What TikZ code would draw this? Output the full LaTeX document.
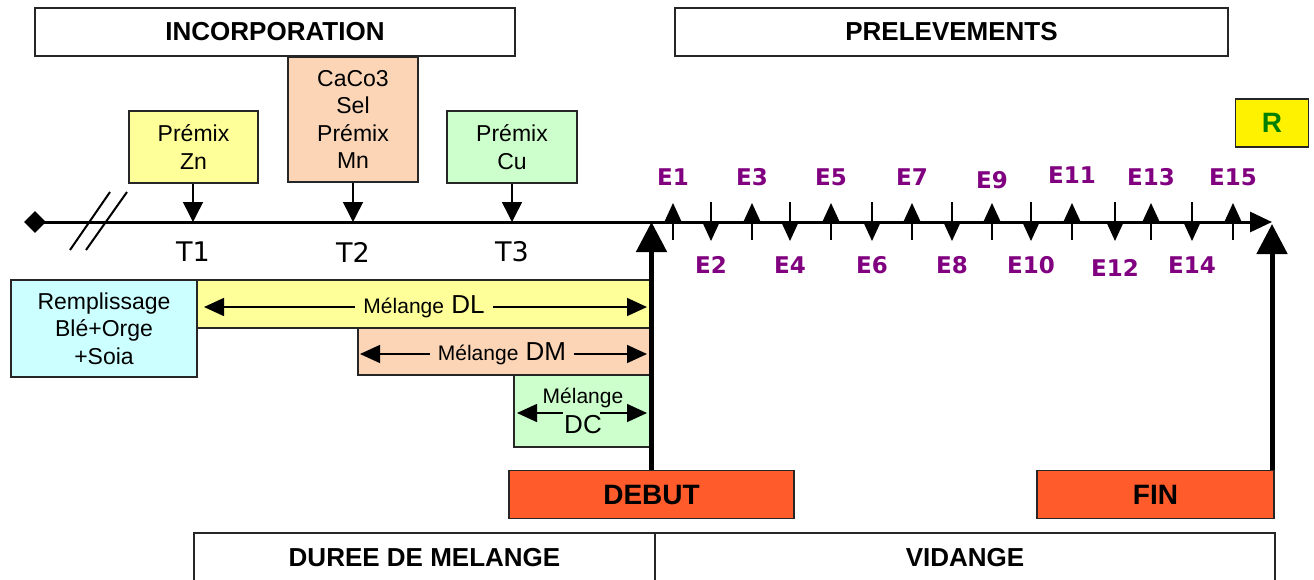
\documentclass[tikz,border=0pt]{standalone}
\usepackage{fontspec}
\setmainfont{Liberation Sans}
\newfontfamily\dejavu{DejaVu Sans}
\usetikzlibrary{arrows.meta,shapes.geometric}
\definecolor{jaune}{HTML}{FFFF99}
\definecolor{peche}{HTML}{FBD5B5}
\definecolor{vertclair}{HTML}{CCFFCC}
\definecolor{cyanclair}{HTML}{CCFFFF}
\definecolor{rouge}{HTML}{FF5B2B}
\definecolor{prune}{HTML}{800080}
\definecolor{vertr}{HTML}{008000}
\begin{document}
\begin{tikzpicture}[x=1pt, y=-1pt,
    box/.style={draw=black!85, line width=1.5pt, rectangle, inner sep=0pt, align=center,
        font=\fontsize{23}{27.5}\selectfont},
    titre/.style={box, fill=white, font=\bfseries\fontsize{26}{30}\selectfont},
    fin/.style={box, fill=rouge, minimum height=48pt, font=\bfseries\fontsize{28}{32}\selectfont},
    mtext/.style={inner xsep=8pt, inner ysep=0pt, font=\fontsize{26}{30}\selectfont},
    elabel/.style={text=prune, font=\dejavu\bfseries\fontsize{23}{27}\selectfont},
    tlabel/.style={font=\dejavu\fontsize{27}{32}\selectfont},
    pointe/.style={-{Triangle[length=20pt,width=20pt]}, line width=1.5pt},
    grosse/.style={-{Triangle[length=30pt,width=30pt]}, line width=5pt},
    petite/.style={-{Triangle[length=20pt,width=18pt]}, line width=1.5pt},
    fleche/.style={-{Triangle[length=20pt,width=18pt]}, line width=1.5pt},
    axe/.style={-{Triangle[length=22pt,width=20pt]}, line width=3pt}]
  \useasboundingbox (0,0) rectangle (1314,579);

  % titres
  \node[titre, minimum width=480pt, minimum height=48pt] (incorp) at (275,32) {INCORPORATION};
  \node[titre, minimum width=553pt, minimum height=48pt] (prelev) at (951.5,32) {PRELEVEMENTS};
  \node[box, fill=yellow, minimum width=73pt, minimum height=48pt, text=vertr,
        font=\bfseries\fontsize{28}{32}\selectfont] (r) at (1272,123) {R};

  % premix
  \node[box, fill=jaune, minimum width=129pt, minimum height=72pt] (zn) at (193.5,147) {Prémix\\Zn};
  \node[box, fill=peche, minimum width=130pt, minimum height=125pt] (caco) at (353,119.5) {CaCo3\\Sel\\Prémix\\Mn};
  \node[box, fill=vertclair, minimum width=130pt, minimum height=72pt] (cu) at (512,147) {Prémix\\Cu};

  % axe
  \node[diamond, fill=black, minimum size=22pt, inner sep=0pt] (origine) at (35,222) {};
  \coordinate (bout) at (1272,222);
  \draw[axe] (origine.center) -- (bout);
  \draw[line width=2pt] (70,250) -- (110,192);
  \draw[line width=2pt] (86,250) -- (127,192);

  \coordinate (p1) at (193,222);
  \coordinate (p2) at (353,222);
  \coordinate (p3) at (512,222);
  \draw[pointe] (zn.south -| p1) -- (p1);
  \draw[pointe] (caco.south -| p2) -- (p2);
  \draw[pointe] (cu.south -| p3) -- (p3);
  \node[tlabel] (t1) at (193,252) {T1};
  \node[tlabel] (t2) at (353,252) {T2};
  \node[tlabel] (t3) at (512,252) {T3};

  % prelevements
  \foreach \i/\x/\y in {1/673/177, 3/752/177, 5/831/177, 7/912/177, 9/992/180, 11/1072/175, 13/1151/177, 15/1233/177} {
    \coordinate (s\i) at (\x,240);
    \coordinate (h\i) at (\x,203);
    \draw[petite] (s\i) -- (h\i);
    \node[elabel] (e\i) at (\x,\y) {E\i};
  }
  \foreach \i/\x/\y in {2/711/265, 4/790/265, 6/872/265, 8/952/265, 10/1031/265, 12/1115/268, 14/1192/265} {
    \coordinate (s\i) at (\x,202);
    \coordinate (h\i) at (\x,241);
    \draw[petite] (s\i) -- (h\i);
    \node[elabel] (e\i) at (\x,\y) {E\i};
  }

  % melanges
  \node[box, fill=cyanclair, minimum width=186pt, minimum height=97pt] (rempl) at (104,328.5) {Remplissage\\Blé+Orge\\+Soia};
  \node[box, fill=jaune, minimum width=455pt, minimum height=48pt] (dl) at (424.5,304) {};
  \node[box, fill=peche, minimum width=294pt, minimum height=47pt] (dm) at (505,351.5) {};
  \node[box, fill=vertclair, minimum width=138pt, minimum height=72pt] (dc) at (583,411) {};

  \node[mtext] (dlt) at (424,307) {{\fontsize{21}{24}\selectfont Mélange} DL};
  \coordinate (dlg) at (204,307);
  \coordinate (dld) at (647,307);
  \draw[fleche] (dlt.west) -- (dlg);
  \draw[fleche] (dlt.east) -- (dld);

  \node[mtext] (dmt) at (502,354) {{\fontsize{21}{24}\selectfont Mélange} DM};
  \coordinate (dmg) at (360,354);
  \coordinate (dmd) at (647,354);
  \draw[fleche] (dmt.west) -- (dmg);
  \draw[fleche] (dmt.east) -- (dmd);

  \node[font=\fontsize{21}{24}\selectfont] (dcm) at (583,398) {Mélange};
  \node[font=\fontsize{26}{30}\selectfont] (dcn) at (583,425) {DC};
  \coordinate (dcg0) at (563,413);
  \coordinate (dcg) at (517,413);
  \coordinate (dcd0) at (600,413);
  \coordinate (dcd) at (647,413);
  \draw[fleche] (dcg0) -- (dcg);
  \draw[fleche] (dcd0) -- (dcd);

  % debut / fin
  \node[fin, minimum width=285pt] (debut) at (651.5,494.5) {DEBUT};
  \node[fin, minimum width=237pt] (finbox) at (1155.5,494.5) {FIN};
  \coordinate (dtip) at (651.5,222);
  \coordinate (ftip) at (1272,224);
  \draw[grosse] (debut.north) -- (dtip);
  \draw[grosse] (finbox.north -| ftip) -- (ftip);

  % bas
  \node[titre, minimum width=461pt, minimum height=50pt] (duree) at (424.5,558) {DUREE DE MELANGE};
  \node[titre, minimum width=620pt, minimum height=50pt] (vidange) at (965,558) {VIDANGE};
\end{tikzpicture}
\end{document}
